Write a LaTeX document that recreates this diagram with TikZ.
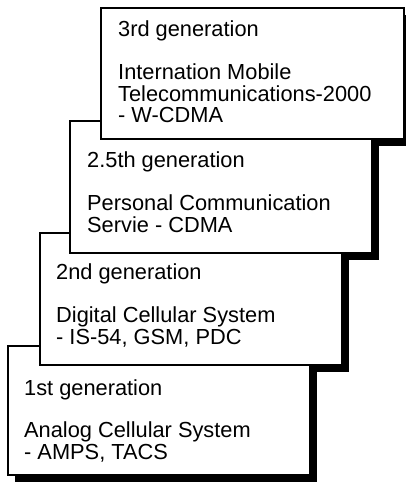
\documentclass[tikz,border=0pt]{standalone}
\usepackage{fontspec}
\setmainfont{Liberation Sans}
\begin{document}
\begin{tikzpicture}[x=1pt,y=-1pt,
  genbox/.style={draw=black, line width=1.5pt, fill=white},
  shadowbox/.style={fill=black},
  gentext/.style={anchor=base west, inner sep=0pt, font=\fontsize{21.8}{21.8}\selectfont}]
\useasboundingbox (0,0) rectangle (406,482);
\clip (0,0) rectangle (406,482);
% box corners
\coordinate (b1a) at (8,346);   \coordinate (b1b) at (310,475);
\coordinate (b2a) at (40,233);  \coordinate (b2b) at (342,365);
\coordinate (b25a) at (70,121); \coordinate (b25b) at (372,253);
\coordinate (b3a) at (101,8);   \coordinate (b3b) at (404,139);
% shadows (drawn first, under all boxes)
\foreach \a/\b in {b1a/b1b, b2a/b2b, b25a/b25b, b3a/b3b}
  \fill[shadowbox] ([shift={(6.5,6.5)}]\a) rectangle ([shift={(6.5,6.5)}]\b);
% boxes, bottom to top
\draw[genbox] (b1a) rectangle (b1b);
\draw[genbox] (b2a) rectangle (b2b);
\draw[genbox] (b25a) rectangle (b25b);
\draw[genbox] (b3a) rectangle (b3b);
% texts
\node[gentext] (t3a) at (118,36) {3rd generation};
\node[gentext] (t3b) at (118,79.5) {Internation Mobile};
\node[gentext] (t3c) at (118,101) {Telecommunications-2000};
\node[gentext] (t3d) at (118,122.5) {- W-CDMA};
\node[gentext] (t25a) at (87,167) {2.5th generation};
\node[gentext] (t25b) at (87,210.5) {Personal Communication};
\node[gentext] (t25c) at (87,232) {Servie - CDMA};
\node[gentext] (t2a) at (56,279) {2nd generation};
\node[gentext] (t2b) at (56,322.5) {Digital Cellular System};
\node[gentext] (t2c) at (56,344) {- IS-54, GSM, PDC};
\node[gentext] (t1a) at (24,395) {1st generation};
\node[gentext] (t1b) at (24,437.5) {Analog Cellular System};
\node[gentext] (t1c) at (24,459) {- AMPS, TACS};
\end{tikzpicture}
\end{document}
